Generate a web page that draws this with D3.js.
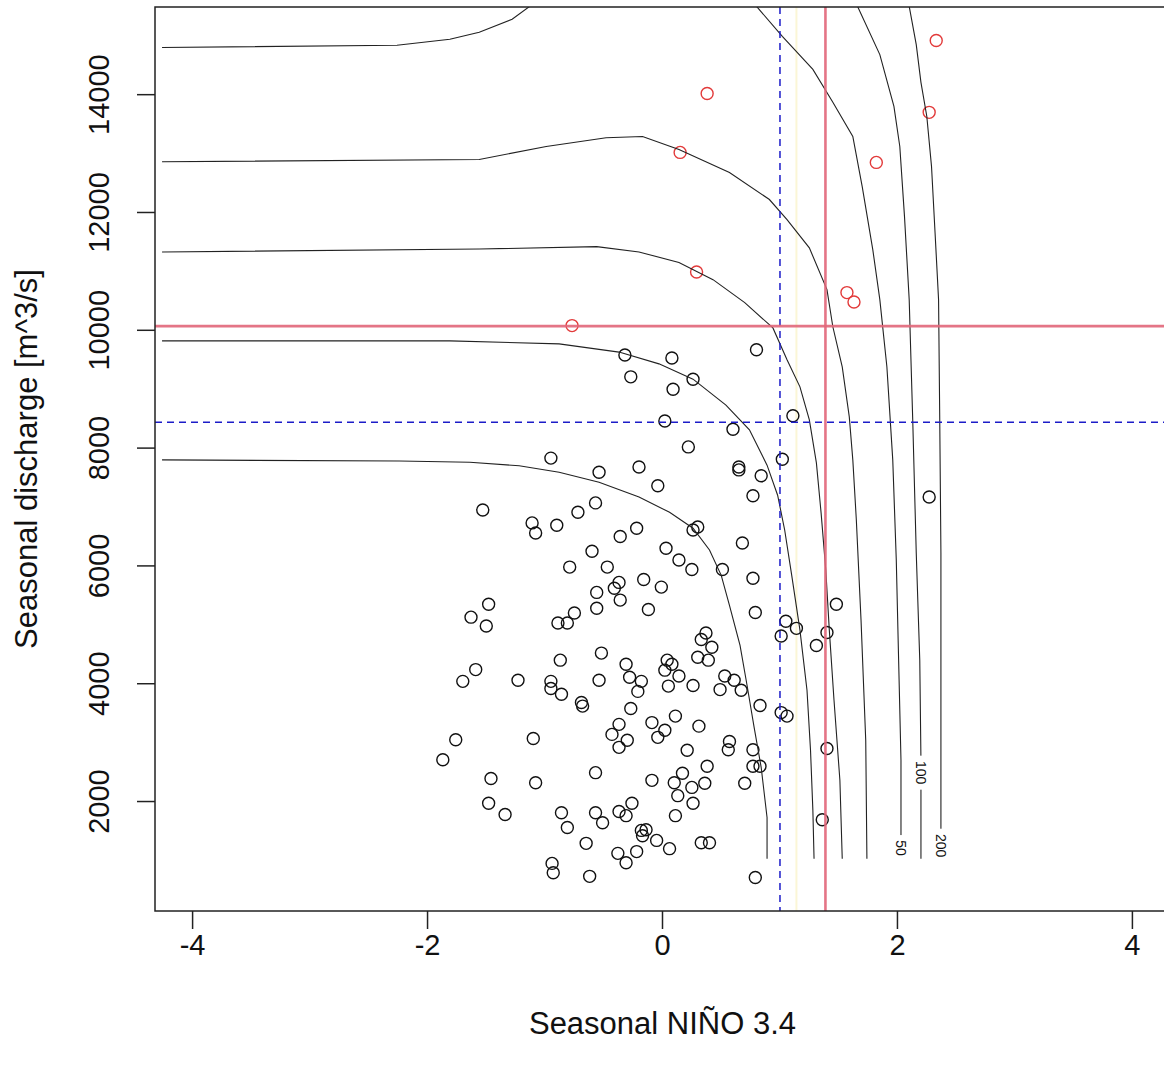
<!DOCTYPE html>
<html>
<head>
<meta charset="utf-8">
<script src="https://cdn.jsdelivr.net/npm/d3@7"></script>
<style>
  body { margin: 0; background: #fff; }
  text { font-family: "Liberation Sans", Arial, sans-serif; fill: #111; }
</style>
</head>
<body>
<svg id="chart"></svg>
<script>
// observed (NINO 3.4, discharge) pairs
const obs = [
  [-0.32,9580],[-0.27,9210],[-0.95,7830],[-0.54,7590],[-0.20,7680],[-0.04,7360],[-1.53,6950],[-0.57,7070],
  [-0.72,6910],[-1.11,6730],[-1.08,6560],[-0.90,6690],[-0.22,6640],[-0.36,6500],[-0.60,6250],[-0.79,5980],
  [-0.47,5980],[-0.37,5720],[-0.41,5620],[-0.56,5550],[-0.36,5420],[-0.16,5770],[-1.48,5350],[0.80,9670],
  [0.08,9530],[0.26,9170],[0.09,9000],[1.11,8550],[0.02,8460],[0.60,8320],[0.22,8020],[1.02,7810],
  [0.65,7680],[0.65,7630],[0.84,7530],[0.77,7190],[0.26,6610],[0.30,6660],[0.68,6390],[0.03,6300],
  [0.14,6100],[0.25,5940],[0.51,5940],[0.77,5790],[-0.01,5640],[-1.63,5130],[-1.50,4980],[-0.89,5030],
  [-0.81,5030],[-0.75,5200],[-0.56,5280],[-0.12,5260],[-0.87,4400],[-0.52,4520],[-0.31,4330],[-0.28,4110],
  [-0.18,4040],[-0.21,3870],[-1.59,4240],[-1.70,4040],[-1.23,4060],[-0.95,4040],[-0.95,3920],[-0.86,3820],
  [-0.69,3680],[-0.68,3620],[-0.54,4060],[-0.27,3580],[-0.37,3310],[-0.43,3140],[-0.30,3040],[-0.37,2920],
  [-0.09,3340],[-0.04,3090],[-1.76,3050],[-1.87,2710],[-1.10,3070],[-0.57,2490],[-0.09,2360],[-1.46,2390],
  [-1.08,2320],[-1.48,1970],[-1.34,1780],[-0.86,1810],[-0.81,1560],[-0.57,1810],[-0.51,1640],[-0.37,1830],
  [-0.31,1760],[-0.26,1970],[-0.18,1510],[-0.14,1520],[-0.17,1420],[-0.05,1340],[-0.65,1290],[-0.38,1120],
  [-0.31,960],[-0.22,1150],[-0.94,950],[-0.93,790],[-0.62,730],[0.79,5210],[1.48,5350],[1.05,5060],
  [1.14,4940],[1.01,4810],[1.40,4870],[1.31,4650],[0.37,4860],[0.33,4750],[0.42,4620],[0.30,4450],
  [0.39,4400],[0.04,4400],[0.08,4330],[0.02,4230],[0.14,4130],[0.05,3960],[0.26,3970],[0.53,4130],
  [0.61,4060],[0.49,3900],[0.67,3890],[0.83,3630],[1.01,3510],[1.06,3450],[0.11,3450],[0.02,3210],
  [0.31,3280],[0.57,3020],[0.56,2880],[0.21,2870],[0.77,2880],[0.77,2600],[0.83,2600],[1.40,2900],
  [0.38,2600],[0.17,2480],[0.10,2320],[0.25,2240],[0.36,2310],[0.70,2310],[0.13,2100],[0.26,1970],
  [0.11,1760],[1.36,1690],[0.06,1200],[0.33,1300],[0.40,1300],[0.79,710],[2.27,7170],
  [2.33,14920],[0.38,14020],[2.27,13700],[0.15,13020],[1.82,12850],[0.29,10990],[1.57,10640],[1.63,10480],
  [-0.77,10080]
];

// return-period contours, traced
const contour1 = [[-4.26,7800],[-2.24,7780],[-1.64,7760],[-1.22,7700],[-0.88,7590],[-0.54,7420],[-0.20,7170],
  [0.06,6910],[0.26,6640],[0.40,6270],[0.50,5840],[0.57,5330],[0.66,4650],[0.72,3970],[0.78,3260],
  [0.84,2580],[0.89,1730],[0.89,1030]];
const contour2 = [[-4.26,9820],[-1.81,9820],[-0.88,9770],[-0.37,9630],[-0.03,9430],[0.26,9170],[0.54,8730],
  [0.74,8310],[0.89,7710],[0.98,7200],[1.04,6610],[1.10,5840],[1.17,4910],[1.23,3890],[1.26,2870],
  [1.28,1850],[1.29,1030]];
const contour3 = [[-4.26,11330],[-1.56,11380],[-0.56,11420],[-0.20,11330],[0.14,11150],[0.43,10860],[0.70,10470],
  [0.94,10040],[1.06,9500],[1.17,9040],[1.25,8480],[1.31,7750],[1.35,6900],[1.39,5930],[1.42,4910],
  [1.46,3720],[1.51,2360],[1.53,1030]];
const contour4 = [[-4.26,12860],[-1.56,12900],[-0.99,13120],[-0.48,13270],[-0.17,13290],[0.14,13070],[0.57,12680],
  [0.91,12220],[1.06,11880],[1.25,11400],[1.40,10690],[1.45,10060],[1.53,9380],[1.59,8530],[1.62,7800],
  [1.65,6780],[1.69,5080],[1.73,3040],[1.74,1030]];
const contour50a = [[-4.26,14800],[-2.26,14840],[-1.81,14940],[-1.56,15060],[-1.28,15280],[-1.13,15500]];
const contour50b = [[0.80,15500],[1.02,14990],[1.28,14430],[1.45,13870],[1.62,13290],[1.70,12440],[1.79,11370],
  [1.85,10520],[1.91,9380],[1.96,7800],[1.99,6100],[2.01,4400],[2.03,2700],[2.03,1030]];
const contour100 = [[1.66,15500],[1.85,14680],[1.97,13800],[2.02,13120],[2.06,11930],[2.10,10520],[2.13,8480],
  [2.16,6220],[2.19,4400],[2.20,2700],[2.20,1030]];
const contour200 = [[2.10,15500],[2.16,14850],[2.20,14210],[2.25,13630],[2.29,12780],[2.32,11660],[2.35,10520],
  [2.36,8480],[2.37,6220],[2.37,3720],[2.37,1030]];
const contourLines = [contour1, contour2, contour3, contour4, contour50a, contour50b, contour100, contour200];

// contour labels: [text, x, y]
const contourLabels = [["50", 2.03, 1210], ["100", 2.20, 2490], ["200", 2.37, 1250]];

// thresholds
const blueX = 1.0, blueY = 8440;
const redX = 1.387, redY = 10070;
const paleX = 1.14;

const xTicks = [-4, -2, 0, 2, 4];
const yTicks = [2000, 4000, 6000, 8000, 10000, 12000, 14000];
const xLim = [-4, 4];

const W = 1164, H = 1066;
const plot = { left: 155, right: 1170, top: 7, bottom: 911 };

const svg = d3.select("#chart").attr("width", W).attr("height", H);

const pad = (a, b) => [a - (b - a) * 0.04, b + (b - a) * 0.04];
const yExt = d3.extent(obs, d => d[1]);

const x = d3.scaleLinear().domain(pad(xLim[0], xLim[1])).range([plot.left, plot.right]);
const y = d3.scaleLinear().domain(pad(yExt[0], yExt[1])).range([plot.bottom, plot.top]);

svg.append("defs").append("clipPath").attr("id", "clip")
  .append("rect")
  .attr("x", plot.left).attr("y", plot.top)
  .attr("width", plot.right - plot.left).attr("height", plot.bottom - plot.top);

const g = svg.append("g").attr("clip-path", "url(#clip)");

// faint helper line
g.append("line").attr("x1", x(paleX)).attr("x2", x(paleX)).attr("y1", plot.top).attr("y2", plot.bottom)
  .attr("stroke", "#fbf6d6").attr("stroke-width", 2);

// points
g.selectAll("circle.pt")
  .data(obs)
  .enter().append("circle")
  .attr("class", "pt")
  .attr("cx", d => x(d[0]))
  .attr("cy", d => y(d[1]))
  .attr("r", 6)
  .attr("fill", "none")
  .attr("stroke", d => d[1] > redY ? "#e23a3a" : "#111")
  .attr("stroke-width", 1.4);

// contours
const line = d3.line().x(d => x(d[0])).y(d => y(d[1]));
g.selectAll("path.contour")
  .data(contourLines)
  .enter().append("path")
  .attr("class", "contour")
  .attr("d", line)
  .attr("fill", "none")
  .attr("stroke", "#222")
  .attr("stroke-width", 1.1);

// contour labels with a gap in the line
contourLabels.forEach(([t, lx, ly]) => {
  const lbl = g.append("g").attr("transform", `translate(${x(lx)},${y(ly)}) rotate(90)`);
  const tw = t.length * 8 + 10;
  lbl.append("rect").attr("x", -tw / 2).attr("y", -7).attr("width", tw).attr("height", 14).attr("fill", "#fff");
  lbl.append("text").attr("text-anchor", "middle").attr("dy", "0.35em")
    .style("font-size", "14px").text(t);
});

// threshold lines
g.append("line").attr("x1", x(blueX)).attr("x2", x(blueX)).attr("y1", plot.top).attr("y2", plot.bottom)
  .attr("stroke", "#1c1cc8").attr("stroke-width", 1.5).attr("stroke-dasharray", "7,5");
g.append("line").attr("x1", plot.left).attr("x2", plot.right).attr("y1", y(blueY)).attr("y2", y(blueY))
  .attr("stroke", "#1c1cc8").attr("stroke-width", 1.5).attr("stroke-dasharray", "7,5");
g.append("line").attr("x1", x(redX)).attr("x2", x(redX)).attr("y1", plot.top).attr("y2", plot.bottom)
  .attr("stroke", "#e2677a").attr("stroke-width", 2.6).attr("opacity", 0.9);
g.append("line").attr("x1", plot.left).attr("x2", plot.right).attr("y1", y(redY)).attr("y2", y(redY))
  .attr("stroke", "#e2677a").attr("stroke-width", 2.6).attr("opacity", 0.9);

// box
svg.append("rect")
  .attr("x", plot.left).attr("y", plot.top)
  .attr("width", plot.right - plot.left).attr("height", plot.bottom - plot.top)
  .attr("fill", "none").attr("stroke", "#222").attr("stroke-width", 1.5);

// axes
const xAxis = svg.append("g").attr("transform", `translate(0,${plot.bottom})`);
xAxis.selectAll("line").data(xTicks).enter().append("line")
  .attr("x1", d => x(d)).attr("x2", d => x(d)).attr("y1", 0).attr("y2", 18)
  .attr("stroke", "#222").attr("stroke-width", 1.5);
xAxis.selectAll("text").data(xTicks).enter().append("text")
  .attr("x", d => x(d)).attr("y", 34).attr("dy", "0.35em")
  .attr("text-anchor", "middle").style("font-size", "29px")
  .text(d => d);

const yAxis = svg.append("g").attr("transform", `translate(${plot.left},0)`);
yAxis.selectAll("line").data(yTicks).enter().append("line")
  .attr("x1", -18).attr("x2", 0).attr("y1", d => y(d)).attr("y2", d => y(d))
  .attr("stroke", "#222").attr("stroke-width", 1.5);
yAxis.selectAll("text").data(yTicks).enter().append("text")
  .attr("transform", d => `translate(-56,${y(d)}) rotate(-90)`)
  .attr("dy", "0.35em")
  .attr("text-anchor", "middle").style("font-size", "29px")
  .text(d => d);

svg.append("text")
  .attr("x", (plot.left + plot.right) / 2).attr("y", 1034)
  .attr("text-anchor", "middle").style("font-size", "31px")
  .text("Seasonal NIÑO 3.4");

svg.append("text")
  .attr("transform", `translate(37,${(plot.top + plot.bottom) / 2}) rotate(-90)`)
  .attr("text-anchor", "middle").style("font-size", "31px")
  .text("Seasonal discharge [m^3/s]");
</script>
</body>
</html>
